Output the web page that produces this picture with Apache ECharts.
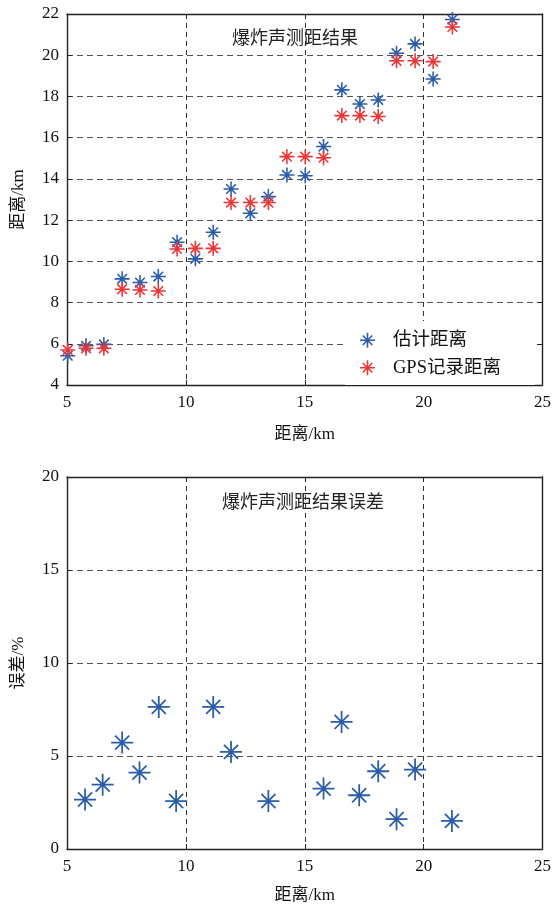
<!DOCTYPE html>
<html>
<head>
<meta charset="utf-8">
<script src="https://cdn.jsdelivr.net/npm/echarts@6/dist/echarts.min.js"></script>
<style>
  html, body { margin: 0; padding: 0; background: #fff; }
  #chart { width: 554px; height: 906px; }
</style>
</head>
<body>
<div id="chart"></div>
<script>
// Distance measurements (km)
const distKm = [5.03, 5.80, 6.55, 7.32, 8.07, 8.84, 9.63, 10.40, 11.15, 11.90, 12.71,
                13.47, 14.25, 15.02, 15.79, 16.56, 17.32, 18.09, 18.86, 19.64, 20.40, 21.21];
const estimatedKm = [5.42, 5.90, 5.97, 9.15, 8.97, 9.26, 10.93, 10.12, 11.41, 13.51, 12.33,
                     13.14, 14.19, 14.15, 15.57, 18.32, 17.63, 17.83, 20.10, 20.55, 18.85, 21.73];
const gpsKm = [5.70, 5.78, 5.78, 8.65, 8.61, 8.56, 10.60, 10.63, 10.63, 12.85, 12.85,
               12.85, 15.08, 15.08, 15.03, 17.07, 17.07, 17.03, 19.73, 19.73, 19.69, 21.37];

// Relative error of the estimate (%)
const errDistKm = [5.76, 6.50, 7.32, 8.05, 8.86, 9.59, 11.15, 11.90, 13.47,
                   15.79, 16.55, 17.29, 18.09, 18.86, 19.64, 21.19];
const errPct = [2.66, 3.46, 5.72, 4.11, 7.64, 2.58, 7.64, 5.22, 2.58,
                3.25, 6.83, 2.89, 4.18, 1.60, 4.27, 1.51];

const titleTop = '爆炸声测距结果';
const titleBottom = '爆炸声测距结果误差';
const seriesNames = ['估计距离', 'GPS记录距离'];
const xName = '距离/km';
const yNameTop = '距离/km';
const yNameBottom = '误差/%';

const BLUE = '#2a5caa';
const RED = '#ee3434';
const FONT = '"Liberation Serif", "Noto Sans CJK SC", serif';

// Asterisk marker (+ and x combined) as a filled path in a 100x100 box
function asterisk(t, a, b) {
  const n = t * Math.SQRT1_2;
  const p = v => v.toFixed(2);
  const h = `M0 ${p(50 - t)} L100 ${p(50 - t)} L100 ${p(50 + t)} L0 ${p(50 + t)} Z`;
  const v = `M${p(50 - t)} 0 L${p(50 + t)} 0 L${p(50 + t)} 100 L${p(50 - t)} 100 Z`;
  const d1 = `M${p(a + n)} ${p(a - n)} L${p(b + n)} ${p(b - n)} L${p(b - n)} ${p(b + n)} L${p(a - n)} ${p(a + n)} Z`;
  const d2 = `M${p(b + n)} ${p(a + n)} L${p(a + n)} ${p(b + n)} L${p(a - n)} ${p(b - n)} L${p(b - n)} ${p(a - n)} Z`;
  return 'path://' + h + ' ' + v + ' ' + d1 + ' ' + d2;
}
const starSmall = asterisk(5.2, 18, 82);
const starLarge = asterisk(4, 18, 82);

const pairs = (xs, ys) => xs.map((x, i) => [x, ys[i]]);

const axisLine = { show: true, onZero: false, lineStyle: { color: '#222', width: 1.4 } };
const axisTick = { show: true, inside: true, length: 5, lineStyle: { color: '#222', width: 1 } };
const labelStyle = { color: '#111', fontSize: 17, fontFamily: FONT };
const nameStyle = { color: '#111', fontSize: 17, fontFamily: FONT };

function xAxes(gridIndex, nameGap) {
  return [
    {
      type: 'value', gridIndex, min: 5, max: 25, interval: 5, position: 'bottom',
      axisLine, axisTick,
      axisLabel: Object.assign({ margin: 9 }, labelStyle),
      splitLine: { show: true, lineStyle: { color: '#333', type: [5, 4], width: 1 } },
      name: xName, nameLocation: 'middle', nameGap, nameTextStyle: nameStyle
    },
    {
      type: 'value', gridIndex, min: 5, max: 25, interval: 5, position: 'top',
      axisLine, axisTick, axisLabel: { show: false }, splitLine: { show: false }
    }
  ];
}
function yAxes(gridIndex, min, max, interval, name) {
  return [
    {
      type: 'value', gridIndex, min, max, interval, position: 'left',
      axisLine, axisTick,
      axisLabel: Object.assign({ margin: 8 }, labelStyle),
      splitLine: { show: true, lineStyle: { color: '#555', type: [6, 4], width: 1 } },
      name, nameLocation: 'middle', nameGap: 40, nameTextStyle: nameStyle
    },
    {
      type: 'value', gridIndex, min, max, interval, position: 'right',
      axisLine, axisTick, axisLabel: { show: false }, splitLine: { show: false }
    }
  ];
}

const chart = echarts.init(document.getElementById('chart'), null, { renderer: 'canvas' });
chart.setOption({
  animation: false,
  backgroundColor: '#fff',
  textStyle: { fontFamily: FONT },
  title: [
    { text: titleTop, left: 232, top: 30, padding: 0,
      textStyle: { fontSize: 18, fontWeight: 'normal', color: '#222', fontFamily: FONT } },
    { text: titleBottom, left: 222, top: 494, padding: 0,
      textStyle: { fontSize: 18, fontWeight: 'normal', color: '#222', fontFamily: FONT } }
  ],
  legend: {
    data: seriesNames,
    orient: 'vertical',
    left: 345,
    top: 321,
    padding: [10, 34, 8, 15],
    backgroundColor: '#fff',
    itemWidth: 15,
    itemHeight: 15,
    itemGap: 9,
    textStyle: { fontSize: 18.5, color: '#111', fontFamily: FONT, padding: [0, 0, 0, 13] }
  },
  grid: [
    { left: 67, right: 11, top: 14, height: 371 },
    { left: 67, right: 11, top: 477, height: 372 }
  ],
  xAxis: [...xAxes(0, 41), ...xAxes(1, 38)],
  yAxis: [...yAxes(0, 4, 22, 2, yNameTop), ...yAxes(1, 0, 20, 5, yNameBottom)],
  series: [
    {
      name: seriesNames[0], type: 'scatter', xAxisIndex: 0, yAxisIndex: 0,
      symbol: starSmall, symbolSize: 15, itemStyle: { color: BLUE, opacity: 1 },
      data: pairs(distKm, estimatedKm), z: 3
    },
    {
      name: seriesNames[1], type: 'scatter', xAxisIndex: 0, yAxisIndex: 0,
      symbol: starSmall, symbolSize: 15, itemStyle: { color: RED, opacity: 1 },
      data: pairs(distKm, gpsKm), z: 4
    },
    {
      name: 'error', type: 'scatter', xAxisIndex: 2, yAxisIndex: 2,
      symbol: starLarge, symbolSize: 22, itemStyle: { color: BLUE, opacity: 1 },
      data: pairs(errDistKm, errPct), z: 3
    }
  ]
});
</script>
</body>
</html>
